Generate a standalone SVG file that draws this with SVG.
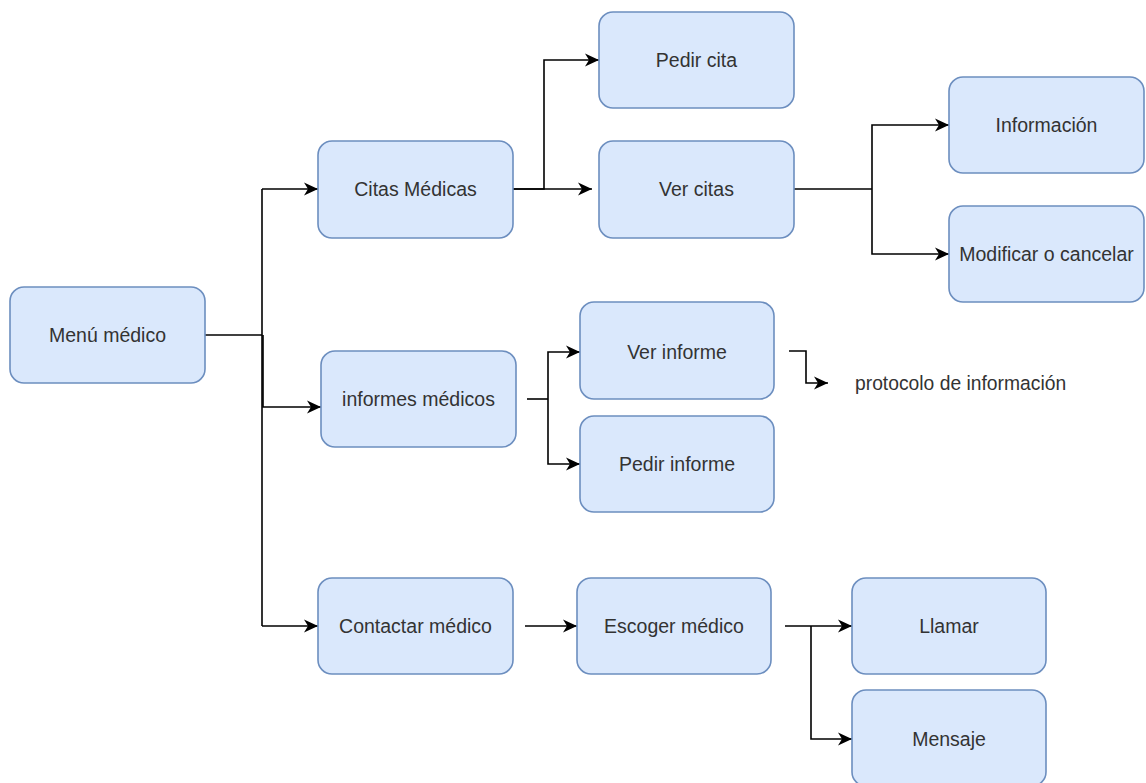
<svg xmlns="http://www.w3.org/2000/svg" width="1146" height="783" viewBox="0 0 1146 783">
  <style>
    .box { fill: #dae8fc; stroke: #6c8ebf; stroke-width: 1.6; }
    .lbl { font-family: "Liberation Sans", Arial, sans-serif; font-size: 19.5px; fill: #333333; text-anchor: middle; dominant-baseline: central; }
    .note { font-family: "Liberation Sans", Arial, sans-serif; font-size: 19.3px; fill: #333333; dominant-baseline: central; }
    .edge { fill: none; stroke: #000000; stroke-width: 1.6; marker-end: url(#arrow); }
    .plain { fill: none; stroke: #000000; stroke-width: 1.6; }
  </style>
  <defs>
    <marker id="arrow" markerUnits="userSpaceOnUse" markerWidth="16" markerHeight="16" refX="14" refY="8" orient="auto">
      <path d="M0,1.5 L14,8 L0,14.5 L4,8 Z" fill="#000000"/>
    </marker>
  </defs>
  <rect width="1146" height="783" fill="#ffffff"/>

  <g id="connectors">
    <!-- Menú médico to its three sections -->
    <path class="plain" d="M205,335 H262"/>
    <path class="edge" d="M262,189 H318"/>
    <path class="plain" d="M262,189 V626"/>
    <path class="edge" d="M263,335 V407 H321"/>
    <path class="edge" d="M262,626 H318"/>
    <!-- Citas Médicas branches -->
    <path class="edge" d="M513,189 H544 V60 H599"/>
    <path class="edge" d="M513,189 H592"/>
    <!-- Ver citas branches -->
    <path class="plain" d="M794,189 H872"/>
    <path class="edge" d="M872,189 V125 H949"/>
    <path class="edge" d="M872,189 V254 H949"/>
    <!-- informes médicos branches -->
    <path class="plain" d="M527,399 H548"/>
    <path class="edge" d="M548,399 V352 H580"/>
    <path class="edge" d="M548,399 V464 H580"/>
    <!-- Ver informe to protocol note -->
    <path class="edge" d="M789,351 H806 V383 H828"/>
    <!-- Contactar médico chain -->
    <path class="edge" d="M525,626 H577"/>
    <path class="edge" d="M785,626 H852"/>
    <path class="edge" d="M811,626 V739 H852"/>
  </g>

  <g id="menu-medico">
    <rect class="box" x="10" y="287" width="195" height="96" rx="14"/>
    <text class="lbl" x="107.5" y="335">Menú médico</text>
  </g>
  <g id="citas-medicas">
    <rect class="box" x="318" y="141" width="195" height="97" rx="14"/>
    <text class="lbl" x="415.5" y="189">Citas Médicas</text>
  </g>
  <g id="pedir-cita">
    <rect class="box" x="599" y="12" width="195" height="96" rx="14"/>
    <text class="lbl" x="696.5" y="60">Pedir cita</text>
  </g>
  <g id="ver-citas">
    <rect class="box" x="599" y="141" width="195" height="97" rx="14"/>
    <text class="lbl" x="696.5" y="189">Ver citas</text>
  </g>
  <g id="informacion">
    <rect class="box" x="949" y="77" width="195" height="96" rx="14"/>
    <text class="lbl" x="1046.5" y="125">Información</text>
  </g>
  <g id="modificar-cancelar">
    <rect class="box" x="949" y="206" width="195" height="96" rx="14"/>
    <text class="lbl" x="1046.5" y="254">Modificar o cancelar</text>
  </g>
  <g id="informes-medicos">
    <rect class="box" x="321" y="351" width="195" height="96" rx="14"/>
    <text class="lbl" x="418.5" y="399">informes médicos</text>
  </g>
  <g id="ver-informe">
    <rect class="box" x="580" y="302" width="194" height="97" rx="14"/>
    <text class="lbl" x="677" y="352">Ver informe</text>
  </g>
  <g id="pedir-informe">
    <rect class="box" x="580" y="416" width="194" height="96" rx="14"/>
    <text class="lbl" x="677" y="464">Pedir informe</text>
  </g>
  <g id="protocolo">
    <text class="note" x="855" y="383">protocolo de información</text>
  </g>
  <g id="contactar-medico">
    <rect class="box" x="318" y="578" width="195" height="96" rx="14"/>
    <text class="lbl" x="415.5" y="626">Contactar médico</text>
  </g>
  <g id="escoger-medico">
    <rect class="box" x="577" y="578" width="194" height="96" rx="14"/>
    <text class="lbl" x="674" y="626">Escoger médico</text>
  </g>
  <g id="llamar">
    <rect class="box" x="852" y="578" width="194" height="96" rx="14"/>
    <text class="lbl" x="949" y="626">Llamar</text>
  </g>
  <g id="mensaje">
    <rect class="box" x="852" y="690" width="194" height="96" rx="14"/>
    <text class="lbl" x="949" y="739">Mensaje</text>
  </g>
</svg>
